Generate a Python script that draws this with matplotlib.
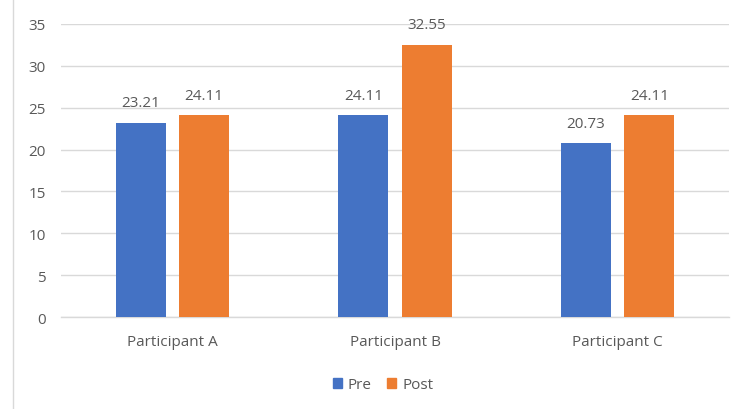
import matplotlib
matplotlib.use("Agg")
import matplotlib.pyplot as plt
import numpy as np
from matplotlib.lines import Line2D
from matplotlib.patches import Patch

categories = ["Participant A", "Participant B", "Participant C"]
pre = [23.21, 24.11, 20.73]
post = [24.11, 32.55, 24.11]
series_names = ["Pre", "Post"]
yticks = [0, 5, 10, 15, 20, 25, 30, 35]

blue = "#4472C4"
orange = "#ED7D31"
txt = "#595959"
grid = "#D9D9D9"

plt.rcParams['font.family'] = ['Open Sans', 'DejaVu Sans']
fs = 11

fig = plt.figure(figsize=(7.36, 4.10), dpi=100)
ax = fig.add_axes([61/736, 1-318/410, (729-61)/736, (318-25)/410])

x = np.arange(len(categories))
w = 0.225
off = 0.1425
b1 = ax.bar(x - off, pre, w, color=blue, zorder=3)
b2 = ax.bar(x + off, post, w, color=orange, zorder=3)

for bars, vals in ((b1, pre), (b2, post)):
    for r, v in zip(bars, vals):
        ax.annotate(f"{v:.2f}", (r.get_x() + r.get_width()/2, v),
                    xytext=(0, 14.5), textcoords="offset points",
                    ha="center", va="center", fontsize=fs, color=txt)

ax.set_xlim(-0.5, 2.5)
ax.set_ylim(0, 35)
ax.set_yticks(yticks)
ax.set_xticks(x)
ax.set_xticklabels(categories)
ax.yaxis.grid(True, color=grid, linewidth=1, zorder=0)
for s in ["top", "right", "left"]:
    ax.spines[s].set_visible(False)
ax.spines["bottom"].set_color(grid)
ax.spines["bottom"].set_linewidth(1)
ax.tick_params(axis="both", length=0, labelsize=fs, labelcolor=txt)
ax.tick_params(axis="y", pad=11)
ax.tick_params(axis="x", pad=12)

# left border of chart area
fig.add_artist(Line2D([13/736, 13/736], [0, 1], color="#D9D9D9", linewidth=1))

handles = [Patch(color=blue, label=series_names[0]), Patch(color=orange, label=series_names[1])]
fig.legend(handles=handles, loc="center", bbox_to_anchor=(383/736, 1-386/410), ncol=2,
           frameon=False, fontsize=fs, labelcolor=txt, handlelength=0.6, handleheight=0.6,
           handletextpad=0.4, columnspacing=1.0)

fig.savefig("out.png", dpi=100)
